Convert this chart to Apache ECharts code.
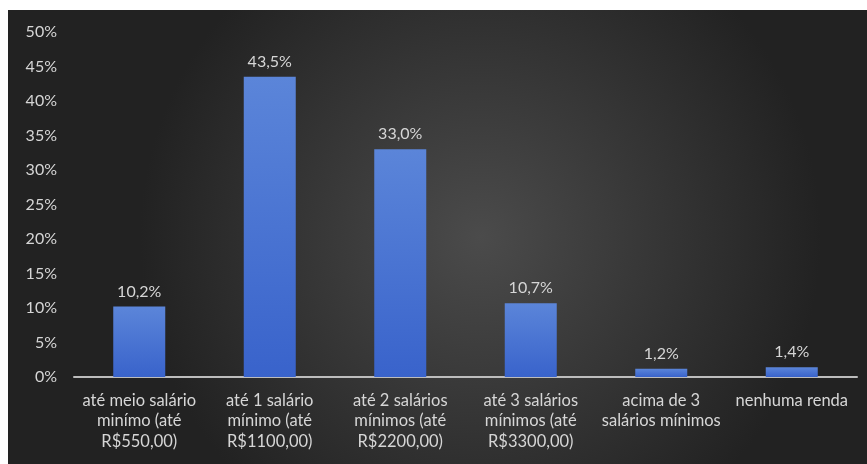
<!DOCTYPE html>
<html>
<head>
<meta charset="utf-8">
<script src="https://cdn.jsdelivr.net/npm/echarts@6/dist/echarts.min.js"></script>
<style>
  html, body { margin: 0; padding: 0; background: #fff; }
  #main { position: absolute; left: 8px; top: 10px; width: 859px; height: 454px; }
</style>
</head>
<body>
<div id="main"></div>
<script>
const categories = [
  'até meio salário\nminímo (até\nR$550,00)',
  'até 1 salário\nmínimo (até\nR$1100,00)',
  'até 2 salários\nmínimos (até\nR$2200,00)',
  'até 3 salários\nmínimos (até\nR$3300,00)',
  'acima de 3\nsalários mínimos',
  'nenhuma renda'
]
const percentages = [10.2, 43.5, 33.0, 10.7, 1.2, 1.4]

const fmtPct = v => v.toFixed(1).replace('.', ',') + '%'

let chart = echarts.init(document.getElementById('main'))
chart.setOption({
  backgroundColor: {
    type: 'radial', x: 0.55, y: 0.5, r: 0.75,
    colorStops: [
      { offset: 0, color: '#4b4b4b' },
      { offset: 1, color: '#222222' }
    ]
  },
  textStyle: { fontFamily: 'Lato' },
  grid: { left: 66, right: 10, top: 22, bottom: 87 },
  xAxis: {
    type: 'category',
    data: categories,
    axisLine: { lineStyle: { color: '#bdbdbd', width: 2 } },
    axisTick: { show: false },
    axisLabel: { color: '#d6d6d6', fontSize: 16.5, lineHeight: 20.5, margin: 13, interval: 0 }
  },
  yAxis: {
    type: 'value',
    min: 0, max: 50, interval: 5,
    splitLine: { show: false },
    axisLine: { show: false },
    axisTick: { show: false },
    axisLabel: { color: '#d6d6d6', fontSize: 16, margin: 17, formatter: v => v + '%' }
  },
  series: [{
    type: 'bar',
    data: percentages,
    barWidth: 52,
    itemStyle: {
      color: {
        type: 'linear', x: 0, y: 0, x2: 0, y2: 1,
        colorStops: [
          { offset: 0, color: '#5b85d9' },
          { offset: 1, color: '#3963cb' }
        ]
      }
    },
    label: {
      show: true, position: 'top', distance: 7,
      color: '#d6d6d6', fontSize: 16,
      formatter: p => fmtPct(p.value)
    }
  }]
})
</script>
</body>
</html>
